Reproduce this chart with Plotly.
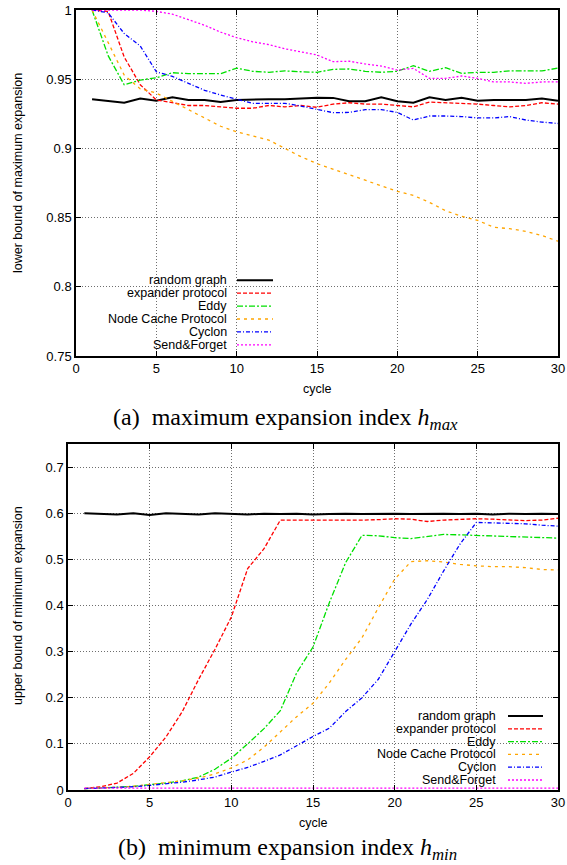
import plotly.graph_objects as go

W, H = 567, 865

cycles = list(range(1, 31))

series_names = ["random graph", "expander protocol", "Eddy",
                "Node Cache Protocol", "Cyclon", "Send&Forget"]
series_colors = ["#000000", "#ff0000", "#00e000", "#ffa500", "#0000ff", "#ff00ff"]
series_dash = ["solid", "4px,2px", "6px,2px,2px,2px", "3px,4px",
               "4px,2px,1px,2px", "2px,2px"]
series_width = [2.0, 1.3, 1.3, 1.3, 1.3, 1.3]

# (a) lower bound of maximum expansion
hmax_random = [0.9355, 0.934, 0.933, 0.936, 0.9345, 0.937, 0.935, 0.935, 0.9335, 0.935,
               0.9355, 0.9355, 0.9355, 0.936, 0.9366, 0.9365, 0.934, 0.934, 0.937, 0.934,
               0.933, 0.937, 0.935, 0.9365, 0.9345, 0.935, 0.935, 0.935, 0.936, 0.9345]
hmax_expander = [1.0, 0.999, 0.966, 0.946, 0.935, 0.933, 0.931, 0.931, 0.930, 0.929,
                 0.929, 0.931, 0.930, 0.931, 0.9297, 0.932, 0.933, 0.932, 0.932, 0.931,
                 0.930, 0.9335, 0.933, 0.933, 0.932, 0.931, 0.930, 0.931, 0.933, 0.932]
hmax_eddy = [1.0, 0.967, 0.946, 0.9494, 0.951, 0.9547, 0.954, 0.9538, 0.954, 0.958,
             0.9557, 0.955, 0.956, 0.9554, 0.955, 0.9571, 0.9574, 0.9557, 0.955, 0.9557,
             0.9598, 0.9557, 0.9583, 0.9542, 0.955, 0.955, 0.956, 0.956, 0.956, 0.958]
hmax_nodecache = [1.0, 0.976, 0.953, 0.943, 0.940, 0.934, 0.928, 0.922, 0.916, 0.912,
                  0.909, 0.906, 0.900, 0.894, 0.889, 0.885, 0.881, 0.877, 0.873, 0.869,
                  0.866, 0.861, 0.855, 0.851, 0.848, 0.843, 0.842, 0.840, 0.837, 0.833]
hmax_cyclon = [1.0, 0.998, 0.983, 0.974, 0.9554, 0.952, 0.947, 0.942, 0.9386, 0.9355,
               0.9326, 0.9326, 0.9326, 0.9306, 0.928, 0.9258, 0.926, 0.928, 0.928, 0.926,
               0.9205, 0.9234, 0.9234, 0.923, 0.922, 0.922, 0.923, 0.9205, 0.919, 0.918]
hmax_sendforget = [1.0, 1.0, 1.0, 1.0, 0.999, 0.997, 0.993, 0.989, 0.984, 0.980,
                   0.977, 0.975, 0.972, 0.970, 0.9675, 0.9627, 0.963, 0.961, 0.9595, 0.9566,
                   0.9578, 0.9506, 0.9506, 0.9523, 0.9506, 0.948, 0.948, 0.947, 0.948, 0.948]

# (b) upper bound of minimum expansion
hmin_random = [0.600, 0.598, 0.597, 0.600, 0.596, 0.600, 0.599, 0.597, 0.600, 0.599,
               0.597, 0.599, 0.598, 0.599, 0.597, 0.598, 0.599, 0.598, 0.599, 0.599,
               0.598, 0.599, 0.599, 0.598, 0.599, 0.597, 0.599, 0.598, 0.599, 0.598]
hmin_expander = [0.003, 0.007, 0.015, 0.036, 0.072, 0.115, 0.17, 0.24, 0.305, 0.375,
                 0.48, 0.523, 0.585, 0.585, 0.585, 0.584, 0.585, 0.585, 0.586, 0.588,
                 0.587, 0.582, 0.585, 0.587, 0.588, 0.587, 0.586, 0.584, 0.585, 0.589]
hmin_eddy = [0.003, 0.004, 0.006, 0.008, 0.011, 0.015, 0.02, 0.028, 0.045, 0.069,
             0.1, 0.133, 0.172, 0.254, 0.31, 0.406, 0.493, 0.552, 0.551, 0.547,
             0.545, 0.549, 0.554, 0.553, 0.552, 0.551, 0.550, 0.549, 0.548, 0.546]
hmin_nodecache = [0.003, 0.004, 0.006, 0.008, 0.012, 0.016, 0.02, 0.026, 0.035, 0.048,
                  0.065, 0.093, 0.125, 0.159, 0.188, 0.232, 0.283, 0.33, 0.395, 0.457,
                  0.495, 0.497, 0.494, 0.489, 0.486, 0.484, 0.484, 0.482, 0.478, 0.477]
hmin_cyclon = [0.003, 0.004, 0.005, 0.007, 0.01, 0.013, 0.017, 0.022, 0.028, 0.039,
               0.049, 0.062, 0.076, 0.096, 0.116, 0.134, 0.17, 0.2, 0.24, 0.30,
               0.36, 0.413, 0.475, 0.533, 0.58, 0.579, 0.578, 0.577, 0.574, 0.572]
hmin_sendforget = [0.004, 0.004, 0.004, 0.004, 0.004, 0.004, 0.004, 0.004, 0.004, 0.004,
                   0.004, 0.004, 0.004, 0.004, 0.004, 0.004, 0.004, 0.004, 0.004, 0.004,
                   0.004, 0.004, 0.004, 0.004, 0.004, 0.004, 0.004, 0.004, 0.004, 0.004]

x_ticks = [0, 5, 10, 15, 20, 25, 30]
x_ticktext = ["0", "5", "10", "15", "20", "25", "30"]
ya_ticks = [0.75, 0.8, 0.85, 0.9, 0.95, 1.0]
ya_ticktext = ["0.75", "0.8", "0.85", "0.9", "0.95", "1"]
yb_ticks = [0, 0.1, 0.2, 0.3, 0.4, 0.5, 0.6, 0.7]
yb_ticktext = ["0", "0.1", "0.2", "0.3", "0.4", "0.5", "0.6", "0.7"]

x_title = "cycle"
ya_title = "lower bound of maximum expansion"
yb_title = "upper bound of minimum expansion"
caption_a = "(a)  maximum expansion index <i>h</i><sub><i>max</i></sub>"
caption_b = "(b)  minimum expansion index <i>h</i><sub><i>min</i></sub>"

hmax_all = [hmax_random, hmax_expander, hmax_eddy, hmax_nodecache, hmax_cyclon, hmax_sendforget]
hmin_all = [hmin_random, hmin_expander, hmin_eddy, hmin_nodecache, hmin_cyclon, hmin_sendforget]


def px(x):
    return x / W


def py(y):
    return 1 - y / H


SANS = "Liberation Sans, Arial, sans-serif"
SERIF = "Liberation Serif, Times New Roman, serif"

fig = go.Figure()

for i, name in enumerate(series_names):
    line = dict(color=series_colors[i], width=series_width[i], dash=series_dash[i])
    fig.add_trace(go.Scatter(x=cycles, y=hmax_all[i], mode="lines", name=name,
                             line=line, xaxis="x", yaxis="y", showlegend=False))
    fig.add_trace(go.Scatter(x=cycles, y=hmin_all[i], mode="lines", name=name,
                             line=line, xaxis="x2", yaxis="y2", showlegend=False))

axis_common = dict(
    showline=True, linecolor="black", linewidth=1.5, mirror="ticks",
    ticks="inside", ticklen=5, tickwidth=1, tickcolor="black",
    showgrid=True, gridcolor="#6e6e6e", griddash="1px,2px", gridwidth=1,
    zeroline=False, automargin=False,
    tickfont=dict(family=SANS, size=13, color="black"),
)

# pixel geometry of the two plot areas
A_L, A_R, A_T, A_B = 76, 558, 10, 356
B_L, B_R, B_T, B_B = 68, 558, 444, 790

fig.update_layout(
    width=W, height=H, margin=dict(l=0, r=0, t=0, b=0, autoexpand=False),
    paper_bgcolor="white", plot_bgcolor="white", showlegend=False,
    xaxis=dict(axis_common, domain=[px(A_L), px(A_R)], range=[0, 30],
               tickvals=x_ticks, ticktext=x_ticktext, anchor="y"),
    yaxis=dict(axis_common, domain=[py(A_B), py(A_T)], range=[0.75, 1.0],
               tickvals=ya_ticks, ticktext=ya_ticktext, anchor="x"),
    xaxis2=dict(axis_common, domain=[px(B_L), px(B_R)], range=[0, 30],
                tickvals=x_ticks, ticktext=x_ticktext, anchor="y2"),
    yaxis2=dict(axis_common, domain=[py(B_B), py(B_T)], range=[0, 0.75],
                tickvals=yb_ticks, ticktext=yb_ticktext, anchor="x2"),
)

shapes = []
annotations = []


def add_legend(box, text_right, sample_x0, sample_x1, rows_y):
    x0, y0, x1, y1 = box
    shapes.append(dict(type="rect", xref="paper", yref="paper",
                       x0=px(x0), x1=px(x1), y0=py(y1), y1=py(y0),
                       fillcolor="white", line=dict(width=0), layer="between"))
    for i, name in enumerate(series_names):
        yy = rows_y[i]
        annotations.append(dict(text=name, xref="paper", yref="paper",
                                x=px(text_right), y=py(yy), xanchor="right",
                                yanchor="middle", showarrow=False,
                                font=dict(family=SANS, size=12.5, color="black")))
        shapes.append(dict(type="line", xref="paper", yref="paper",
                           x0=px(sample_x0), x1=px(sample_x1), y0=py(yy), y1=py(yy),
                           line=dict(color=series_colors[i], width=series_width[i],
                                     dash=series_dash[i]), layer="above"))


add_legend((A_L + 1, 273, 279, A_B - 1), 229, 237, 273,
           [280.3, 293.2, 306.1, 319.0, 331.9, 344.8])
add_legend((352, 707, 550, B_B - 1), 498, 508, 543,
           [716.0, 728.8, 741.6, 754.4, 767.2, 780.0])

# axis titles
annotations.append(dict(text=x_title, xref="paper", yref="paper", x=px(317), y=py(389),
                        xanchor="center", yanchor="middle", showarrow=False,
                        font=dict(family=SANS, size=12.5, color="black")))
annotations.append(dict(text=x_title, xref="paper", yref="paper", x=px(313), y=py(823),
                        xanchor="center", yanchor="middle", showarrow=False,
                        font=dict(family=SANS, size=12.5, color="black")))
annotations.append(dict(text=ya_title, xref="paper", yref="paper", x=px(18), y=py(173),
                        xanchor="center", yanchor="middle", showarrow=False, textangle=-90,
                        font=dict(family=SANS, size=12.5, color="black")))
annotations.append(dict(text=yb_title, xref="paper", yref="paper", x=px(18), y=py(606),
                        xanchor="center", yanchor="middle", showarrow=False, textangle=-90,
                        font=dict(family=SANS, size=12.5, color="black")))
# captions
annotations.append(dict(text=caption_a, xref="paper", yref="paper", x=px(285), y=py(419),
                        xanchor="center", yanchor="middle", showarrow=False,
                        font=dict(family=SERIF, size=24, color="black")))
annotations.append(dict(text=caption_b, xref="paper", yref="paper", x=px(287), y=py(849),
                        xanchor="center", yanchor="middle", showarrow=False,
                        font=dict(family=SERIF, size=24, color="black")))

fig.update_layout(shapes=shapes, annotations=annotations)

fig.write_html("out.html",
               config=dict(displayModeBar=False, responsive=False),
               post_script="document.body.style.margin='0';"
                           "document.body.style.overflow='hidden';")
